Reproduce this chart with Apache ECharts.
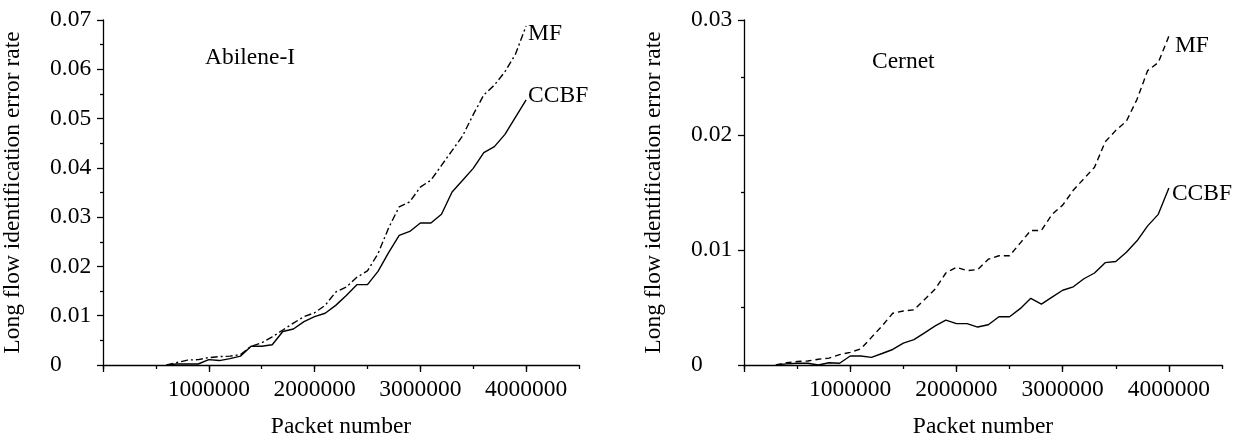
<!DOCTYPE html>
<html>
<head>
<meta charset="utf-8">
<script src="https://cdn.jsdelivr.net/npm/echarts@6/dist/echarts.min.js"></script>
<style>
  html, body { margin: 0; padding: 0; background: #fff; }
  #main { width: 1238px; height: 444px; }
</style>
</head>
<body>
<div id="main"></div>
<script>
// packet numbers, 300000 .. 4000000
var packets = [300000, 400000, 500000, 600000, 700000, 800000, 900000, 1000000,
  1100000, 1200000, 1300000, 1400000, 1500000, 1600000, 1700000, 1800000, 1900000, 2000000,
  2100000, 2200000, 2300000, 2400000, 2500000, 2600000, 2700000, 2800000, 2900000, 3000000,
  3100000, 3200000, 3300000, 3400000, 3500000, 3600000, 3700000, 3800000, 3900000, 4000000];

// Abilene-I
var abileneCCBF = [null, null, null, 0, 0.0002, 0.0002, 0.0002, 0.0011,
  0.0009, 0.0013, 0.0018, 0.0038, 0.0038, 0.0041, 0.0068, 0.0073, 0.0088, 0.0098,
  0.0105, 0.0121, 0.0141, 0.0163, 0.0163, 0.019, 0.0228, 0.0263, 0.0271, 0.0288,
  0.0288, 0.0306, 0.0351, 0.0375, 0.0399, 0.0431, 0.0443, 0.0468, 0.0503, 0.0538];
var abileneMF = [null, null, null, 0, 0.0005, 0.001, 0.0011, 0.0015,
  0.0017, 0.0018, 0.0021, 0.0038, 0.0045, 0.0057, 0.0071, 0.0085, 0.0098, 0.0106,
  0.0121, 0.0148, 0.0158, 0.0178, 0.0191, 0.0226, 0.0278, 0.0321, 0.0331, 0.0361,
  0.0375, 0.0405, 0.0435, 0.0465, 0.0508, 0.0548, 0.0568, 0.0595, 0.0631, 0.0688];

// Cernet
var cernetCCBF = [0, 0.0001, 0.00015, 0.00015, 0, 0.0002, 0.00015, 0.00078,
  0.00078, 0.00066, 0.001, 0.00135, 0.0019, 0.0022, 0.0028, 0.0034, 0.0039, 0.0036,
  0.0036, 0.0033, 0.0035, 0.0042, 0.0042, 0.0049, 0.0058, 0.0053, 0.0059, 0.0065,
  0.0068, 0.0075, 0.008, 0.0089, 0.009, 0.0098, 0.0108, 0.0121, 0.0131, 0.0154];
var cernetMF = [0, 0.0002, 0.0003, 0.00035, 0.0005, 0.0006, 0.0009, 0.0011,
  0.0014, 0.0024, 0.0034, 0.0045, 0.0047, 0.0048, 0.0057, 0.0066, 0.008, 0.0085,
  0.0082, 0.0083, 0.0092, 0.0095, 0.0095, 0.0106, 0.0117, 0.0117, 0.0131, 0.0139,
  0.0152, 0.0162, 0.0172, 0.0194, 0.0204, 0.0212, 0.0231, 0.0256, 0.0263, 0.0286];

var majorPackets = [0, 1000000, 2000000, 3000000, 4000000];

var FONT = '"Liberation Serif", "Times New Roman", serif';
var txt = { color: '#000', fontFamily: FONT, fontSize: 23.5 };

function pairs(ys) {
  return packets.map(function (x, i) { return [x, ys[i]]; });
}

function xAxes(grid) {
  return [{
    type: 'value', gridIndex: grid, min: 0, max: 4500000, interval: 500000,
    name: 'Packet number', nameLocation: 'middle', nameGap: 50,
    nameTextStyle: txt,
    axisLine: { lineStyle: { color: '#000', width: 1.3 } },
    axisTick: { length: 4, lineStyle: { color: '#000', width: 1.3 } },
    axisLabel: Object.assign({
      margin: 13,
      formatter: function (v) { return (v > 0 && v % 1000000 === 0 && v <= 4000000) ? String(v) : ''; }
    }, txt),
    splitLine: { show: false }
  }, {
    type: 'value', gridIndex: grid, min: 0, max: 4500000, position: 'bottom',
    axisLine: { show: false },
    axisTick: { show: true, length: 7, customValues: majorPackets, lineStyle: { color: '#000', width: 1.3 } },
    axisLabel: { show: false },
    splitLine: { show: false }
  }];
}

function yAxis(grid, max) {
  return {
    type: 'value', gridIndex: grid, min: 0, max: max, interval: 0.01,
    name: 'Long flow identification error rate', nameLocation: 'middle', nameGap: 78,
    nameTextStyle: txt,
    axisLine: { show: true, lineStyle: { color: '#000', width: 1.3 } },
    axisTick: { show: true, length: 6, lineStyle: { color: '#000', width: 1.3 } },
    minorTick: { show: true, splitNumber: 2, length: 3, lineStyle: { color: '#000', width: 1.3 } },
    axisLabel: Object.assign({
      align: 'left', margin: 53,
      formatter: function (v) { return v === 0 ? '0' : v.toFixed(2); }
    }, txt),
    splitLine: { show: false }
  };
}

function line(name, grid, ys, dash, ox, oy) {
  return {
    name: name, type: 'line', xAxisIndex: grid * 2, yAxisIndex: grid,
    data: pairs(ys), symbol: 'none', connectNulls: false,
    lineStyle: { color: '#000', width: 1.4, type: dash },
    endLabel: Object.assign({ show: true, formatter: name, distance: ox, offset: [0, oy] }, txt),
    z: 3
  };
}

var chart = echarts.init(document.getElementById('main'));
chart.setOption({
  animation: false,
  backgroundColor: '#fff',
  title: [
    { text: 'Abilene-I', left: 205, top: 46, padding: 0, textStyle: Object.assign({ fontWeight: 'normal' }, txt) },
    { text: 'Cernet', left: 872, top: 50, padding: 0, textStyle: Object.assign({ fontWeight: 'normal' }, txt) }
  ],
  grid: [
    { left: 99, top: 20, width: 480, height: 350 },
    { left: 744, top: 20, width: 478, height: 348 }
  ],
  xAxis: xAxes(0).concat(xAxes(1)),
  yAxis: [yAxis(0, 0.07), yAxis(1, 0.03)],
  series: [
    line('MF', 0, abileneMF, [7, 3, 2, 3], 2, 8),
    line('CCBF', 0, abileneCCBF, 'solid', 2, -4),
    line('MF', 1, cernetMF, [6, 4], 6, 10),
    line('CCBF', 1, cernetCCBF, 'solid', 3, 6)
  ]
});
</script>
</body>
</html>
